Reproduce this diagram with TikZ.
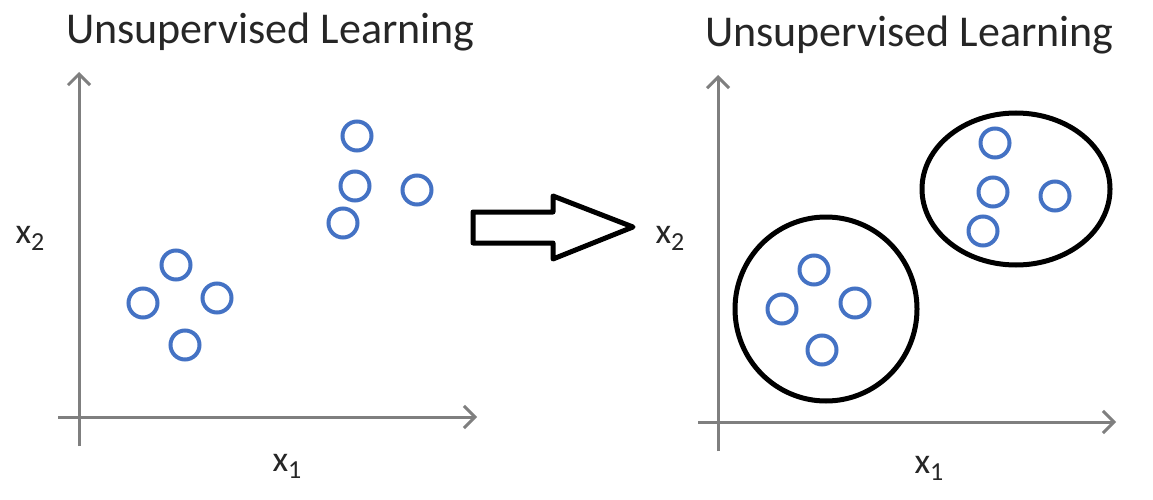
\documentclass[tikz,border=0pt]{standalone}
\usepackage{fontspec}
\setmainfont{Carlito}
\usetikzlibrary{arrows.meta}
\definecolor{axisgray}{HTML}{7F7F7F}
\definecolor{dotblue}{HTML}{4472C4}
\definecolor{titlegray}{HTML}{262626}
\tikzset{
  axis/.style={draw=axisgray, line width=3pt, -{Straight Barb[length=11pt,width=22pt,line width=3pt]}},
  pt/.style={circle, draw=dotblue, line width=4pt, minimum size=29pt, inner sep=0pt},
  title/.style={font=\fontsize{44}{50}\selectfont, text=titlegray, inner sep=0pt, anchor=base west},
  lab/.style={font=\fontsize{36}{40}\selectfont, text=titlegray, inner sep=0pt},
  cluster/.style={draw=black, line width=5pt},
}
\newcommand{\xsub}[1]{x\raisebox{-0.4ex}{\fontsize{26}{26}\selectfont #1}}
\begin{document}
\begin{tikzpicture}[x=1pt,y=-1pt]
\useasboundingbox (0,0) rectangle (1153,500);
\fill[white] (0,0) rectangle (1153,500);
% left panel
\node[title] (t1) at (66,44) {Unsupervised Learning};
\coordinate (ly0) at (79,446);
\coordinate (ly1) at (79,72);
\coordinate (lx0) at (58,417);
\coordinate (lx1) at (477,417);
\draw[axis] (ly0) -- (ly1);
\draw[axis] (lx0) -- (lx1);
\node[lab] (lx2) at (30,238) {\xsub{2}};
\node[lab] (lx1l) at (287,466) {\xsub{1}};
\node[pt] (a1) at (176,265) {};
\node[pt] (a2) at (143,303) {};
\node[pt] (a3) at (217,298) {};
\node[pt] (a4) at (185,345) {};
\node[pt] (b1) at (357,136) {};
\node[pt] (b2) at (355,186) {};
\node[pt] (b3) at (417,190) {};
\node[pt] (b4) at (343,223) {};
% block arrow
\draw[draw=black, line width=5pt, line join=round, fill=white]
  (473,212) -- (553,212) -- (553,196) -- (633,227) -- (553,259) -- (553,243) -- (473,243) -- cycle;
% right panel
\node[title] (t2) at (705,47) {Unsupervised Learning};
\coordinate (ry0) at (718,451);
\coordinate (ry1) at (718,75);
\coordinate (rx0) at (698,422);
\coordinate (rx1) at (1116,422);
\draw[axis] (ry0) -- (ry1);
\draw[axis] (rx0) -- (rx1);
\node[lab] (rx2) at (670,238) {\xsub{2}};
\node[lab] (rx1l) at (929,468) {\xsub{1}};
\node[pt] (c1) at (995,143) {};
\node[pt] (c2) at (993,192) {};
\node[pt] (c3) at (1055,196) {};
\node[pt] (c4) at (983,231) {};
\node[pt] (d1) at (814,270) {};
\node[pt] (d2) at (782,309) {};
\node[pt] (d3) at (855,303) {};
\node[pt] (d4) at (822,350) {};
\draw[cluster] (826,309) ellipse [x radius=91, y radius=92];
\draw[cluster] (1016,189) ellipse [x radius=94, y radius=76];
\end{tikzpicture}
\end{document}
